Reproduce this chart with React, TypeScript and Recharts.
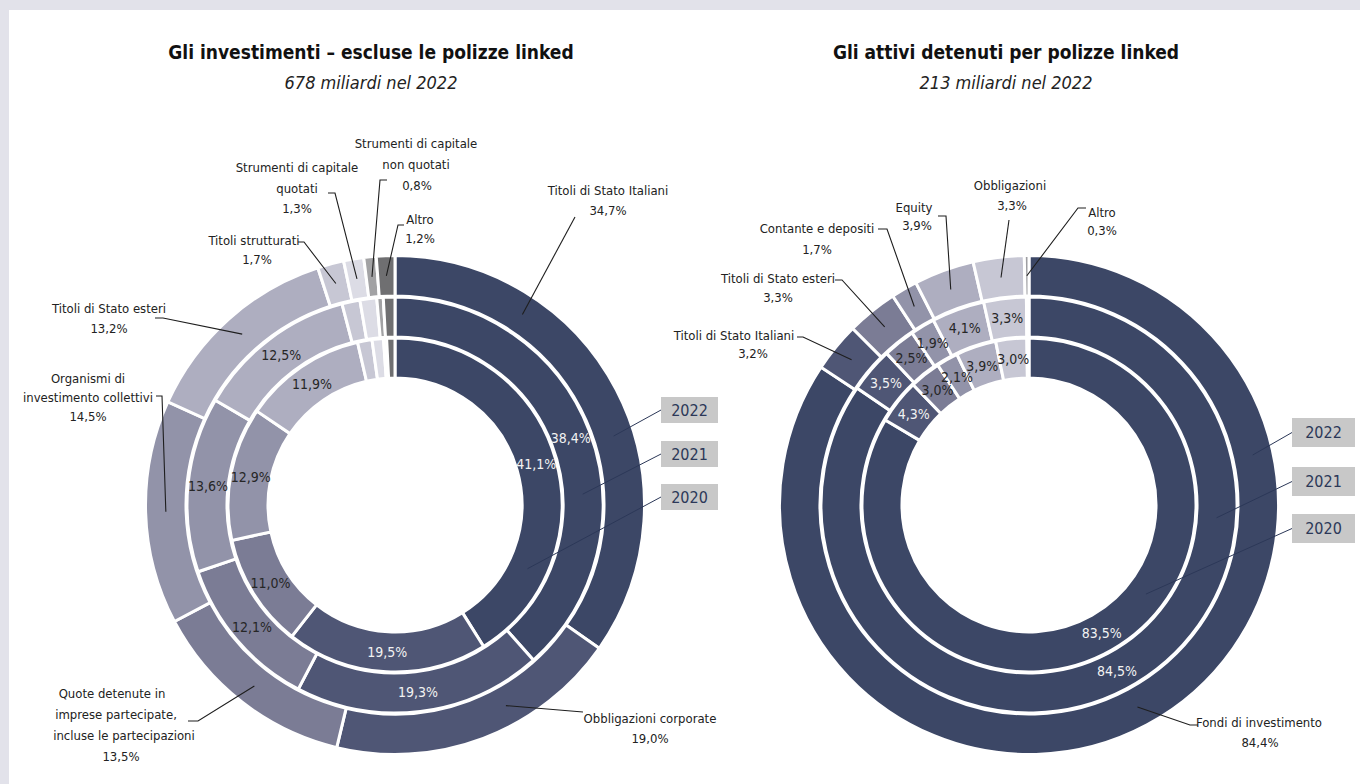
import { PieChart, Pie, Cell } from "recharts";

// categories and values (clockwise from 12 o'clock)
const leftCategories = [
  "Titoli di Stato Italiani",
  "Obbligazioni corporate",
  "Quote detenute in imprese partecipate, incluse le partecipazioni",
  "Organismi di investimento collettivi",
  "Titoli di Stato esteri",
  "Titoli strutturati",
  "Strumenti di capitale quotati",
  "Strumenti di capitale non quotati",
  "Altro",
];
const left2022 = [34.7, 19.0, 13.5, 14.5, 13.2, 1.7, 1.3, 0.8, 1.2];
const left2021 = [38.4, 19.3, 12.1, 13.6, 12.5, 1.4, 1.3, 0.5, 0.9];
const left2020 = [41.1, 19.5, 11.0, 12.9, 11.9, 1.4, 1.1, 0.3, 0.8];

const rightCategories = [
  "Fondi di investimento",
  "Titoli di Stato Italiani",
  "Titoli di Stato esteri",
  "Contante e depositi",
  "Equity",
  "Obbligazioni",
  "Altro",
];
const right2022 = [84.4, 3.2, 3.3, 1.7, 3.9, 3.3, 0.3];
const right2021 = [84.5, 3.5, 2.5, 1.9, 4.1, 3.3, 0.2];
const right2020 = [83.5, 4.3, 3.0, 2.1, 3.9, 3.0, 0.2];

const years = ["2022", "2021", "2020"];

const leftColors = ["#3c4766", "#4f5675", "#7b7c95", "#9293a9", "#aeaec0", "#c7c7d4", "#dcdce5", "#a2a2a4", "#6f6f71"];
const rightColors = ["#3c4766", "#4f5675", "#7b7c95", "#9293a9", "#aeaec0", "#c7c7d4", "#9e9ea2"];

const FONT = "'Liberation Sans Narrow', 'DejaVu Sans Condensed', 'Roboto', sans-serif";
const RAD = Math.PI / 180;
const W = 1351;
const H = 774;
const LEFT_C = { x: 386, y: 495 };
const RIGHT_C = { x: 1020, y: 495 };
// rings: 2022 outer, 2021 middle, 2020 inner
const RINGS = [
  [209, 249.5],
  [168, 208],
  [127, 167],
];

const fmt = (v: number) => v.toFixed(1).replace(".", ",") + "%";
const polar = (cx: number, cy: number, r: number, a: number) => [cx + r * Math.cos(a * RAD), cy - r * Math.sin(a * RAD)];

type OuterLayout = {
  lines: [string, number, number][];
  pct: [number, number];
  start: [number, number];
  hook: number;
  along?: number;
};

// text placement for the outer ring call-outs
const leftOuter: OuterLayout[] = [
  { lines: [["Titoli di Stato Italiani", 599, 180]], pct: [599, 200], start: [566, 207], hook: 0, along: 0.27 },
  { lines: [["Obbligazioni corporate", 641, 708]], pct: [641, 728], start: [574, 702], hook: 0, along: 0.38 },
  {
    lines: [
      ["Quote detenute in", 103, 683],
      ["imprese partecipate,", 107, 704],
      ["incluse le partecipazioni", 115, 725],
    ],
    pct: [112, 746],
    start: [179, 711],
    hook: 10,
  },
  { lines: [["Organismi di", 79, 368], ["investimento collettivi", 79, 387]], pct: [79, 406], start: [147, 386], hook: 6 },
  { lines: [["Titoli di Stato esteri", 100, 298]], pct: [100, 318], start: [146, 308], hook: 8 },
  { lines: [["Titoli strutturati", 245, 230]], pct: [248, 249], start: [289, 232], hook: 6 },
  { lines: [["Strumenti di capitale", 288, 157], ["quotati", 288, 178]], pct: [288, 198], start: [319, 183], hook: 7 },
  { lines: [["Strumenti di capitale", 407, 133], ["non quotati", 407, 154]], pct: [408, 175], start: [378, 170], hook: -7 },
  { lines: [["Altro", 411, 209]], pct: [411, 228], start: [395, 215], hook: -6 },
];

const rightOuter: OuterLayout[] = [
  { lines: [["Fondi di investimento", 1250, 712]], pct: [1251, 732], start: [1189, 715], hook: -8 },
  { lines: [["Titoli di Stato Italiani", 725, 325]], pct: [744, 343], start: [788, 327], hook: 6 },
  { lines: [["Titoli di Stato esteri", 769, 268]], pct: [769, 287], start: [826, 270], hook: 7 },
  { lines: [["Contante e depositi", 808, 218]], pct: [808, 239], start: [869, 219], hook: 9 },
  { lines: [["Equity", 905, 197]], pct: [908, 215], start: [929, 206], hook: 8 },
  { lines: [["Obbligazioni", 1001, 175]], pct: [1003, 195], start: [1000, 210], hook: 0 },
  { lines: [["Altro", 1093, 202]], pct: [1093, 220], start: [1077, 198], hook: -8 },
];

// year tags: box position and angle where the pointer touches the ring
const leftTags = [
  { x: 652, y: 387, w: 57, h: 26, angle: 17.5 },
  { x: 652, y: 431, w: 57, h: 26, angle: 3.3 },
  { x: 652, y: 474, w: 57, h: 26, angle: -25.7 },
];
const rightTags = [
  { x: 1283, y: 408, w: 63, h: 29, angle: 12.6 },
  { x: 1283, y: 457, w: 63, h: 29, angle: -3.9 },
  { x: 1283, y: 504, w: 63, h: 29, angle: -37.3 },
];

const outerLabel = (layout: OuterLayout[]) => (p: any) => {
  const L = layout[p.index];
  if (!L) return null;
  const a = p.startAngle + (p.endAngle - p.startAngle) * (L.along ?? 0.5);
  const [ax, ay] = polar(p.cx, p.cy, (p.innerRadius + p.outerRadius) / 2, a);
  const [sx, sy] = L.start;
  return (
    <g>
      <polyline
        points={`${sx},${sy} ${sx + L.hook},${sy} ${ax},${ay}`}
        fill="none"
        stroke="#1e1e1e"
        strokeWidth={1.1}
      />
      {L.lines.map(([t, x, y], i) => (
        <text key={i} x={x} y={y} textAnchor="middle" dominantBaseline="central" fontSize={13} fill="#222" fontFamily={FONT}>
          {t}
        </text>
      ))}
      <text x={L.pct[0]} y={L.pct[1]} textAnchor="middle" dominantBaseline="central" fontSize={13} fill="#222" fontFamily={FONT}>
        {fmt(p.value)}
      </text>
    </g>
  );
};

const innerLabel = (shown: number) => (p: any) => {
  if (p.index >= shown) return null;
  const [x, y] = polar(p.cx, p.cy, (p.innerRadius + p.outerRadius) / 2, p.midAngle);
  return (
    <text
      x={x}
      y={y}
      textAnchor="middle"
      dominantBaseline="central"
      fontSize={14}
      fill={p.index < 2 ? "#f2f2f2" : "#262626"}
      fontFamily={FONT}
    >
      {fmt(p.value)}
    </text>
  );
};

const rows = (cats: string[], vals: number[]) => cats.map((name, i) => ({ name, value: vals[i] }));

function Rings({ c, cats, series, colors, outer, shown }: any) {
  return series.map((vals: number[], k: number) => (
    <Pie
      key={c.x + "-" + k}
      data={rows(cats, vals)}
      dataKey="value"
      cx={c.x}
      cy={c.y}
      innerRadius={RINGS[k][0]}
      outerRadius={RINGS[k][1]}
      startAngle={90}
      endAngle={-270}
      stroke="#ffffff"
      strokeWidth={3}
      isAnimationActive={false}
      labelLine={false}
      label={k === 0 ? outerLabel(outer) : innerLabel(shown)}
    >
      {vals.map((_, i) => (
        <Cell key={i} fill={colors[i]} />
      ))}
    </Pie>
  ));
}

function Tags({ c, tags }: any) {
  return tags.map((t: any, k: number) => {
    const [ex, ey] = polar(c.x, c.y, (RINGS[k][0] + RINGS[k][1]) / 2, t.angle);
    return (
      <g key={k}>
        <line x1={t.x} y1={t.y + t.h / 2} x2={ex} y2={ey} stroke="#2c3858" strokeWidth={1} />
        <rect x={t.x} y={t.y} width={t.w} height={t.h} fill="#c8c8c8" />
        <text
          x={t.x + t.w / 2}
          y={t.y + t.h / 2}
          textAnchor="middle"
          dominantBaseline="central"
          fontSize={16}
          fill="#2c3858"
          fontFamily={FONT}
        >
          {years[k]}
        </text>
      </g>
    );
  });
}

function Titles() {
  const t = (x: number, title: string, sub: string) => (
    <g>
      <text x={x} y={42} textAnchor="middle" dominantBaseline="central" fontSize={19} fontWeight="bold" fill="#111" fontFamily={FONT}>
        {title}
      </text>
      <text x={x} y={72} textAnchor="middle" dominantBaseline="central" fontSize={18} fontStyle="italic" fill="#222" fontFamily={FONT}>
        {sub}
      </text>
    </g>
  );
  return (
    <>
      {t(362, "Gli investimenti – escluse le polizze linked", "678 miliardi nel 2022")}
      {t(997, "Gli attivi detenuti per polizze linked", "213 miliardi nel 2022")}
    </>
  );
}

export default function App() {
  return (
    <div style={{ position: "fixed", left: 0, top: 0, width: 1360, height: 784, background: "#e2e2ea", overflow: "hidden" }}>
      <div style={{ position: "absolute", left: 9, top: 10, width: W, height: H, background: "#ffffff" }}>
        <PieChart width={W} height={H} margin={{ top: 0, right: 0, bottom: 0, left: 0 }}>
          {Rings({ c: LEFT_C, cats: leftCategories, series: [left2022, left2021, left2020], colors: leftColors, outer: leftOuter, shown: 5 })}
          {Rings({ c: RIGHT_C, cats: rightCategories, series: [right2022, right2021, right2020], colors: rightColors, outer: rightOuter, shown: 6 })}
        </PieChart>
        <svg width={W} height={H} style={{ position: "absolute", left: 0, top: 0, pointerEvents: "none" }}>
          <Titles />
          <Tags c={LEFT_C} tags={leftTags} />
          <Tags c={RIGHT_C} tags={rightTags} />
        </svg>
      </div>
    </div>
  );
}
